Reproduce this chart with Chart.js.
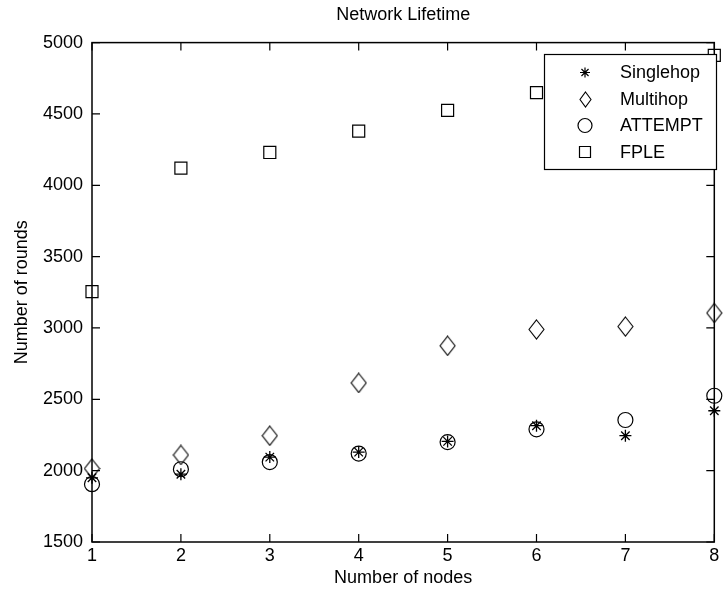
<!DOCTYPE html>
<html>
<head>
<meta charset="utf-8">
<title>Network Lifetime</title>
<script src="https://cdn.jsdelivr.net/npm/chart.js@4.4.0/dist/chart.umd.min.js"></script>
<style>
  html, body { margin: 0; padding: 0; background: #fff; }
</style>
</head>
<body>
<canvas id="lifetimeChart" width="724" height="592"></canvas>
<script>
// Rounds until the network dies, per protocol
var nodes = [1, 2, 3, 4, 5, 6, 7, 8];
var singlehop = [1950, 1975, 2095, 2130, 2205, 2315, 2245, 2420];
var multihop = [2015, 2110, 2245, 2615, 2875, 2990, 3010, 3105];
var attempt = [1905, 2010, 2060, 2120, 2200, 2290, 2355, 2525];
var fple = [3255, 4120, 4230, 4380, 4525, 4650, 4780, 4910];
var seriesNames = ['Singlehop', 'Multihop', 'ATTEMPT', 'FPLE'];

var FONT = '"Liberation Sans", Arial, sans-serif';
var FONT_SIZE = 18;

// Tall open diamond, like the 'd' marker
function diamondImage(w, h) {
    var c = document.createElement('canvas');
    c.width = w;
    c.height = h;
    var g = c.getContext('2d');
    g.strokeStyle = '#000';
    g.lineWidth = 1.1;
    g.beginPath();
    g.moveTo(w / 2, 1);
    g.lineTo(w - 1, h / 2);
    g.lineTo(w / 2, h - 1);
    g.lineTo(1, h / 2);
    g.closePath();
    g.stroke();
    return c;
}
var diamond = diamondImage(17, 21);
var diamondSmall = diamondImage(13, 17);

function toPoints(values) {
    return nodes.map(function (n, i) { return { x: n, y: values[i] }; });
}

function markerSet(label, values, style, radius, width) {
    return {
        label: label,
        data: toPoints(values),
        showLine: false,
        pointStyle: style,
        pointRadius: radius,
        pointHoverRadius: radius,
        pointBorderWidth: width,
        pointBorderColor: '#000',
        pointBackgroundColor: 'rgba(0,0,0,0)',
        borderColor: '#000',
        clip: false
    };
}

// Box round the plot with inward ticks on all four sides
var frame = {
    id: 'frame',
    afterDatasetsDraw: function (chart) {
        var a = chart.chartArea, ctx = chart.ctx;
        var xs = chart.scales.x, ys = chart.scales.y;
        ctx.save();
        ctx.strokeStyle = '#000';
        ctx.lineWidth = 1.5;
        ctx.strokeRect(a.left, a.top, a.right - a.left, a.bottom - a.top);
        ctx.lineWidth = 1.2;
        ctx.beginPath();
        xs.ticks.forEach(function (t) {
            var px = xs.getPixelForValue(t.value);
            ctx.moveTo(px, a.bottom);
            ctx.lineTo(px, a.bottom - 8);
            ctx.moveTo(px, a.top);
            ctx.lineTo(px, a.top + 8);
        });
        ys.ticks.forEach(function (t) {
            var py = ys.getPixelForValue(t.value);
            ctx.moveTo(a.left, py);
            ctx.lineTo(a.left + 8, py);
            ctx.moveTo(a.right, py);
            ctx.lineTo(a.right - 8, py);
        });
        ctx.stroke();
        ctx.restore();
    }
};

// Boxed legend in the upper right corner of the plot
var boxLegend = {
    id: 'boxLegend',
    afterDraw: function (chart) {
        var ctx = chart.ctx;
        var left = 544, top = 54, right = 716, bottom = 169;
        ctx.save();
        ctx.fillStyle = '#fff';
        ctx.fillRect(left, top, right - left, bottom - top);
        ctx.strokeStyle = '#000';
        ctx.lineWidth = 1.2;
        ctx.strokeRect(left + 0.5, top + 0.5, right - left, bottom - top);

        var mx = 585, tx = 620;
        ctx.font = FONT_SIZE + 'px ' + FONT;
        ctx.textBaseline = 'middle';
        ctx.fillStyle = '#000';
        ctx.lineWidth = 1.2;
        seriesNames.forEach(function (name, i) {
            var y = 72.5 + i * 26.5;
            ctx.beginPath();
            if (i === 0) {
                var r = 5;
                ctx.moveTo(mx, y - r); ctx.lineTo(mx, y + r);
                ctx.moveTo(mx - r, y); ctx.lineTo(mx + r, y);
                var d = r * Math.SQRT1_2;
                ctx.moveTo(mx - d, y - d); ctx.lineTo(mx + d, y + d);
                ctx.moveTo(mx - d, y + d); ctx.lineTo(mx + d, y - d);
                ctx.stroke();
            } else if (i === 1) {
                ctx.drawImage(diamondSmall, Math.round(mx - diamondSmall.width / 2), Math.round(y - diamondSmall.height / 2));
            } else if (i === 2) {
                ctx.arc(mx, y, 7, 0, Math.PI * 2);
                ctx.stroke();
            } else {
                ctx.rect(mx - 5.5, y - 5.5, 11, 11);
                ctx.stroke();
            }
            ctx.fillText(name, tx, y + 1);
        });
        ctx.restore();
    }
};

var ctx = document.getElementById('lifetimeChart').getContext('2d');
var lifetimeChart = new Chart(ctx, {
    type: 'scatter',
    data: {
        datasets: [
            markerSet('Singlehop', singlehop, 'star', 6, 1.3),
            markerSet('Multihop', multihop, diamond, 8, 1),
            markerSet('ATTEMPT', attempt, 'circle', 7.5, 1.2),
            markerSet('FPLE', fple, 'rect', 8.5, 1.2)
        ]
    },
    options: {
        responsive: false,
        animation: false,
        devicePixelRatio: 1,
        layout: {
            padding: { top: 0, right: 1, bottom: 0, left: 0 }
        },
        scales: {
            x: {
                type: 'linear',
                min: 1,
                max: 8,
                ticks: {
                    stepSize: 1,
                    color: '#000',
                    padding: 3,
                    font: { family: FONT, size: FONT_SIZE }
                },
                grid: { display: false, drawTicks: false },
                border: { display: false },
                title: {
                    display: true,
                    text: 'Number of nodes',
                    color: '#000',
                    font: { family: FONT, size: FONT_SIZE },
                    padding: { top: 0, bottom: 3 }
                },
                afterFit: function (scale) {
                    scale.height = 50;
                    scale.paddingLeft = 0;
                    scale.paddingRight = 0;
                }
            },
            y: {
                type: 'linear',
                min: 1500,
                max: 5000,
                ticks: {
                    stepSize: 500,
                    color: '#000',
                    padding: 9,
                    font: { family: FONT, size: FONT_SIZE },
                    callback: function (value) { return String(value); }
                },
                grid: { display: false, drawTicks: false },
                border: { display: false },
                title: {
                    display: true,
                    text: 'Number of rounds',
                    color: '#000',
                    font: { family: FONT, size: FONT_SIZE },
                    padding: { top: 11, bottom: 0 }
                },
                afterFit: function (scale) {
                    scale.width = 92;
                    scale.paddingTop = 0;
                    scale.paddingBottom = 0;
                }
            }
        },
        plugins: {
            legend: { display: false },
            tooltip: { enabled: false },
            title: {
                display: true,
                fullSize: false,
                text: 'Network Lifetime',
                color: '#000',
                font: { family: FONT, size: FONT_SIZE, weight: 'normal' },
                padding: { top: 4, bottom: 17 }
            }
        }
    },
    plugins: [frame, boxLegend]
});
</script>
</body>
</html>
